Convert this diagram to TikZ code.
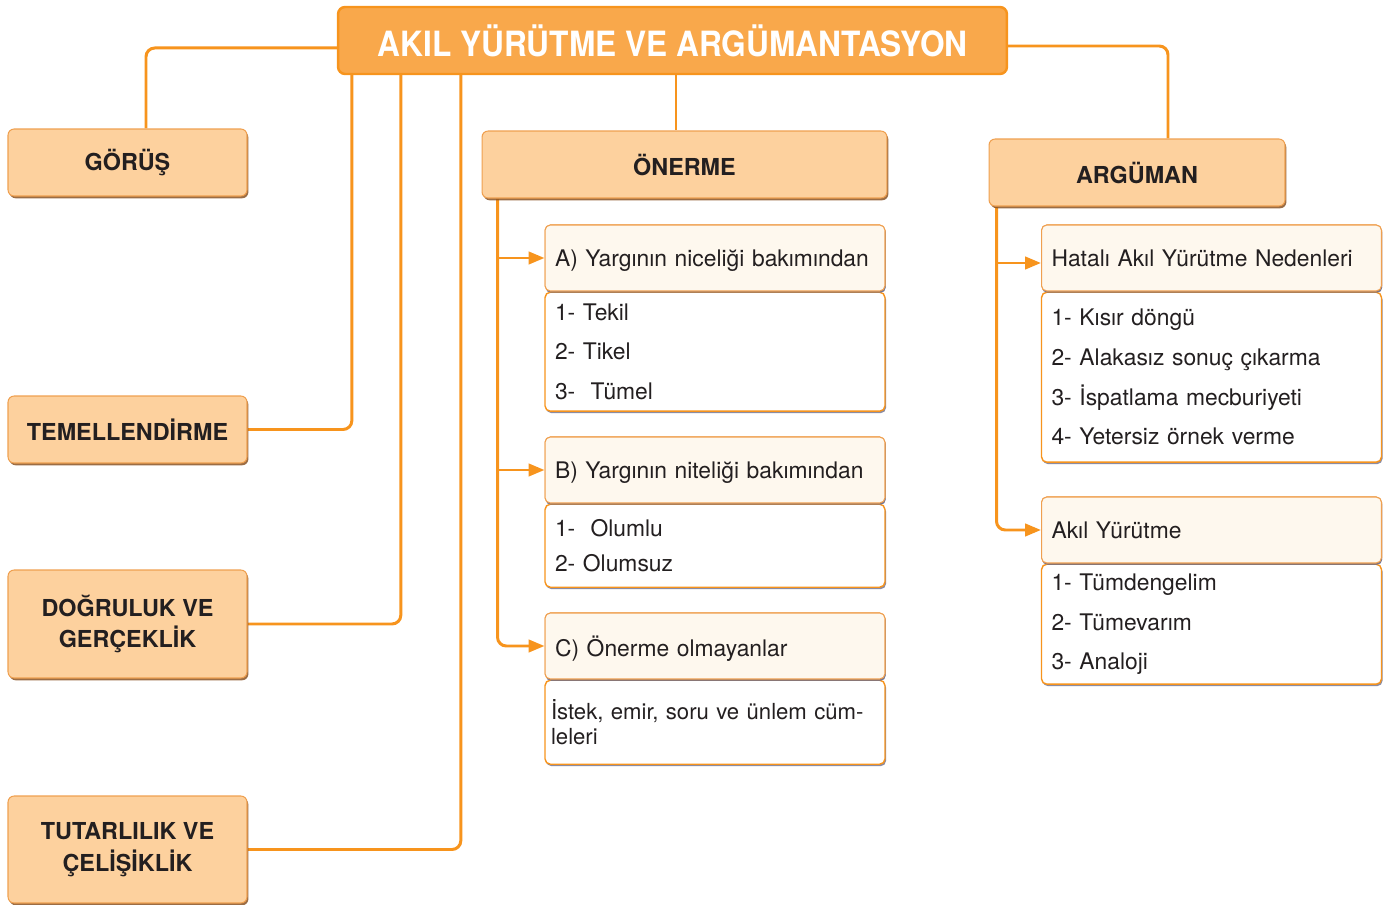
\documentclass[tikz,border=0pt]{standalone}
\usepackage{fontspec}
\setmainfont{TeX Gyre Heros}
\usetikzlibrary{arrows.meta, positioning, shadows, backgrounds}
\definecolor{hatturuncu}{HTML}{F7941D}
\definecolor{basturuncu}{HTML}{F9A84B}
\definecolor{kutudolgu}{HTML}{FDD19E}
\definecolor{kutukenar}{HTML}{EFA050}
\definecolor{ustdolgu}{HTML}{FEF8EE}
\definecolor{kgolge}{HTML}{8A5424}
\definecolor{ggolge}{HTML}{6E6F8C}
\definecolor{yazi}{HTML}{231F20}

\tikzset{
  baslik/.style={draw=hatturuncu, fill=basturuncu, rounded corners=4pt, line width=1.4pt,
    minimum width=13.38cm, minimum height=1.34cm, text=white,
    font=\fontsize{19.8}{22}\selectfont\bfseries},
  kavram/.style={draw=kutukenar, fill=kutudolgu, rounded corners=3.5pt, line width=0.6pt,
    minimum height=1.34cm, align=center, text=yazi,
    font=\fontsize{13.3}{18}\selectfont\bfseries,
    drop shadow={shadow xshift=0.8pt, shadow yshift=-1.3pt, fill=kgolge, opacity=0.85}},
  ust/.style={draw=kutukenar, fill=ustdolgu, rounded corners=3pt, line width=0.6pt,
    minimum width=6.8cm, minimum height=1.32cm, text width=6.4cm, inner xsep=0.2cm,
    align=left, text=yazi, font=\fontsize{13}{15}\selectfont, text depth=0pt,
    drop shadow={shadow xshift=0.4pt, shadow yshift=-1pt, fill=ggolge, opacity=0.8}},
  govde/.style={draw=hatturuncu, fill=white, rounded corners=3pt, line width=0.8pt,
    minimum width=6.8cm, text width=6.4cm, inner xsep=0.2cm,
    align=left, text=yazi, font=\fontsize{13}{22.6}\selectfont,
    drop shadow={shadow xshift=0.6pt, shadow yshift=-1.1pt, fill=ggolge, opacity=0.8}},
  hat/.style={draw=hatturuncu, line width=1.7pt, rounded corners=5pt},
  ok/.style={hat, -{Triangle[length=9pt, width=7pt]}},
}

\begin{document}
\begin{tikzpicture}[x=0.02cm, y=-0.02cm]
\useasboundingbox (0,0) rectangle (1387,905);

% ana baslik
\node[baslik] (baslik) at (672.5,40.5) {\scalebox{0.91}[1]{AKIL YÜRÜTME VE ARGÜMANTASYON}};

% sol kavramlar
\node[kavram, minimum width=4.78cm] (gorus) at (127.5,162.5) {GÖRÜŞ};
\node[kavram, minimum width=4.78cm] (temel) at (127.5,429.5) {TEMELLENDİRME};
\node[kavram, minimum width=4.78cm, minimum height=2.16cm] (dogru) at (127.5,624) {DOĞRULUK VE\\GERÇEKLİK};
\node[kavram, minimum width=4.78cm, minimum height=2.14cm] (tutar) at (127.5,849.5) {TUTARLILIK VE\\ÇELİŞİKLİK};

% orta ve sag kavramlar
\node[kavram, minimum width=8.1cm] (onerme) at (684.5,164.5) {ÖNERME};
\node[kavram, minimum width=5.92cm] (arguman) at (1137,172.5) {ARGÜMAN};

% onerme alt kutulari
\node[ust] (hA) at (715,258) {A) Yargının niceliği bakımından};
\node[govde, minimum height=2.38cm, below=0pt of hA] (gA) {1- Tekil\\2- Tikel\\3-\ \ Tümel};
\node[ust] at (hA) {A) Yargının niceliği bakımından};

\node[ust] (hB) at (715,470) {B) Yargının niteliği bakımından};
\node[govde, minimum height=1.66cm, below=0pt of hB, font=\fontsize{13}{19.8}\selectfont] (gB) {1-\ \ Olumlu\\2- Olumsuz};
\node[ust] at (hB) {B) Yargının niteliği bakımından};

\node[ust] (hC) at (715,646) {C) Önerme olmayanlar};
\node[govde, minimum height=1.68cm, below=0pt of hC, text width=6.56cm, inner xsep=0.12cm,
  font=\fontsize{12.6}{14.7}\selectfont] (gC) {İstek, emir, soru ve ünlem cüm-\\leleri};
\node[ust] at (hC) {C) Önerme olmayanlar};

% arguman alt kutulari
\node[ust] (hH) at (1211.5,258) {Hatalı Akıl Yürütme Nedenleri};
\node[govde, minimum height=3.4cm, below=0pt of hH] (gH) {1- Kısır döngü\\2- Alakasız sonuç çıkarma\\3- İspatlama mecburiyeti\\4- Yetersiz örnek verme};
\node[ust] at (hH) {Hatalı Akıl Yürütme Nedenleri};

\node[ust] (hK) at (1211.5,530) {Akıl Yürütme};
\node[govde, minimum height=2.4cm, below=0pt of hK] (gK) {1- Tümdengelim\\2- Tümevarım\\3- Analoji};
\node[ust] at (hK) {Akıl Yürütme};

% baglantilar
\coordinate (oS) at ([xshift=0.32cm]onerme.south west);
\coordinate (aS) at ([xshift=0.16cm]arguman.south west);
\begin{scope}[on background layer]
\draw[hat] ([yshift=-0.15cm]baslik.west) -| ([xshift=0.37cm]gorus.north);
\draw[hat] ([xshift=0.3cm]baslik.south west) |- (temel.east);
\draw[hat] ([xshift=1.28cm]baslik.south west) |- (dogru.east);
\draw[hat] ([xshift=2.48cm]baslik.south west) |- (tutar.east);
\draw[hat] ([xshift=0.07cm]baslik.south) -- ([xshift=0.07cm]baslik.south |- onerme.north);
\draw[hat] ([yshift=-0.11cm]baslik.east) -| ([xshift=0.62cm]arguman.north);

\draw[ok] (oS) |- (hC.west);
\draw[ok] (oS |- hA.west) -- (hA.west);
\draw[ok] (oS |- hB.west) -- (hB.west);

\draw[ok] (aS) |- (hK.west);
\draw[ok] ([yshift=-0.1cm]aS |- hH.west) -- ([yshift=-0.1cm]hH.west);
\end{scope}
\end{tikzpicture}
\end{document}
